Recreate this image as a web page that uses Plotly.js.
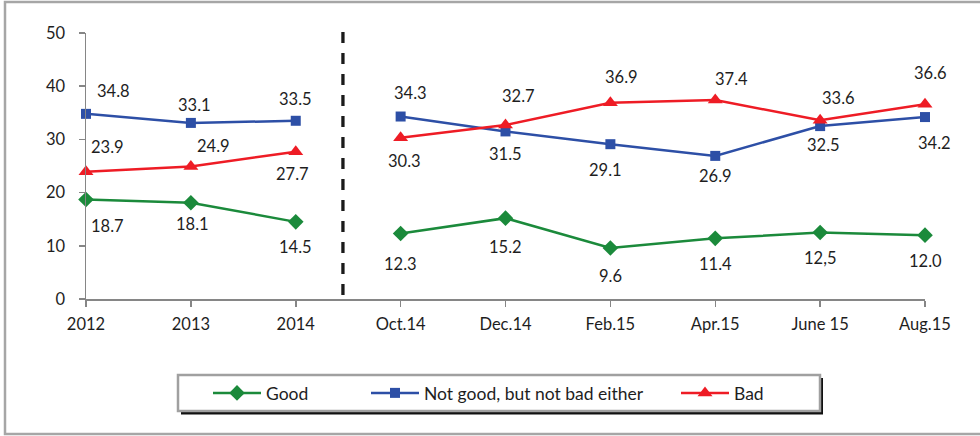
<!DOCTYPE html>
<html>
<head>
<meta charset="utf-8">
<script src="https://cdn.plot.ly/plotly-3.0.1.min.js"></script>
<style>html,body{margin:0;padding:0;background:#fff;}#chart{width:980px;height:436px;}</style>
</head>
<body>
<div id="chart"></div>
<script>
// ---- data ----
const categories = ['2012', '2013', '2014', 'Oct.14', 'Dec.14', 'Feb.15', 'Apr.15', 'June 15', 'Aug.15'];
const annualCount = 3; // first three points are yearly, the rest are monthly surveys
const seriesNames = ['Good', 'Not good, but not bad either', 'Bad'];
const good    = [18.7, 18.1, 14.5, 12.3, 15.2, 9.6, 11.4, 12.5, 12.0];
const notGood = [34.8, 33.1, 33.5, 34.3, 31.5, 29.1, 26.9, 32.5, 34.2];
const bad     = [23.9, 24.9, 27.7, 30.3, 32.7, 36.9, 37.4, 33.6, 36.6];
const goodLabels    = ['18.7', '18.1', '14.5', '12.3', '15.2', '9.6', '11.4', '12,5', '12.0'];
const notGoodLabels = ['34.8', '33.1', '33.5', '34.3', '31.5', '29.1', '26.9', '32.5', '34.2'];
const badLabels     = ['23.9', '24.9', '27.7', '30.3', '32.7', '36.9', '37.4', '33.6', '36.6'];

// ---- label placement (pixel offsets, dy positive = down) ----
const goodDx    = [21, 2, 0, 0, 0, 0, 0, 0, 0];
const goodDy    = [26, 21, 25, 30, 29, 28, 26, 25, 26];
const notGoodDx = [27, 4, 0, 10, 0, -5, 0, 3, 9];
const notGoodDy = [-23, -18, -22, -24, 23, 26, 20, 19, 26];
const badDx     = [21, 23, -3, 4, 13, 11, 16, 18, 5];
const badDy     = [-25, -21, 22, 23, -29, -26, -21, -22, -31];

// ---- styles ----
const FONT = 'Lato, "Open Sans", "DejaVu Sans", sans-serif';
const TXT = '#1e1e1e';
const AXIS = '#868686';
const styles = [
  {color: '#1b8a3b', symbol: 'diamond', size: 12, legend: 'legend'},
  {color: '#2d4fa6', symbol: 'square', size: 10, legend: 'legend2'},
  {color: '#ee1c25', symbol: 'triangle-up', size: 13, legend: 'legend3'}
];
const values = [good, notGood, bad];
const labels = [goodLabels, notGoodLabels, badLabels];
const dxs = [goodDx, notGoodDx, badDx];
const dys = [goodDy, notGoodDy, badDy];

const traces = [];
values.forEach((vals, s) => {
  const st = styles[s];
  const segs = [[0, annualCount], [annualCount, categories.length]];
  segs.forEach((seg, k) => {
    traces.push({
      type: 'scatter', mode: 'lines+markers',
      name: seriesNames[s],
      legendgroup: 'g' + s,
      legend: st.legend,
      showlegend: k === 0,
      x: categories.slice(seg[0], seg[1]),
      y: vals.slice(seg[0], seg[1]),
      line: {color: st.color, width: 2.5},
      marker: {color: st.color, symbol: st.symbol, size: st.size},
      cliponaxis: false,
      hoverinfo: 'skip'
    });
  });
});

const annotations = [];
values.forEach((vals, s) => {
  vals.forEach((v, i) => {
    annotations.push({
      x: i, y: v, xref: 'x', yref: 'y',   // category index on the category axis
      text: labels[s][i], showarrow: false,
      xanchor: 'center', yanchor: 'middle',
      xshift: dxs[s][i], yshift: -dys[s][i],
      font: {family: FONT, size: 16.5, color: TXT}
    });
  });
});

// pixel helpers for paper coordinates
const L = 86, R = 55, T = 33, B = 137, W = 980, H = 436;
const pw = W - L - R, ph = H - T - B;
const px = x => (x - L) / pw;
const py = y => (H - B - y) / ph;

const shapes = [
  // outer frame
  {type: 'rect', xref: 'paper', yref: 'paper', x0: px(5), x1: px(992), y0: py(434), y1: py(2),
   line: {color: '#a6a6a6', width: 2.5}, fillcolor: 'rgba(0,0,0,0)', layer: 'below'},
  // legend shadow
  {type: 'rect', xref: 'paper', yref: 'paper', x0: px(181), x1: px(823), y0: py(414.5), y1: py(378),
   line: {width: 0}, fillcolor: '#111', layer: 'below'},
  // legend box
  {type: 'rect', xref: 'paper', yref: 'paper', x0: px(178), x1: px(820), y0: py(411), y1: py(375),
   line: {color: '#a0a0a0', width: 2.5}, fillcolor: '#ffffff', layer: 'below'},
  // dashed separator between yearly and monthly data
  {type: 'line', xref: 'x', yref: 'paper', x0: 2.45, x1: 2.45, y0: py(32), y1: 0,
   line: {color: '#1a1a1a', width: 3.3, dash: '11px,10px'}}
];

const legendBase = {
  orientation: 'h', yanchor: 'middle', y: py(393), xanchor: 'left',
  bgcolor: 'rgba(0,0,0,0)', borderwidth: 0, itemwidth: 48,
  font: {family: FONT, size: 17.5, color: TXT}
};

const layout = {
  width: W, height: H,
  margin: {l: L, r: R, t: T, b: B, pad: 0},
  paper_bgcolor: '#ffffff', plot_bgcolor: '#ffffff',
  font: {family: FONT, size: 16, color: TXT},
  showlegend: true,
  legend:  Object.assign({}, legendBase, {x: px(208)}),
  legend2: Object.assign({}, legendBase, {x: px(366)}),
  legend3: Object.assign({}, legendBase, {x: px(676)}),
  xaxis: {
    type: 'category', categoryorder: 'array', categoryarray: categories,
    range: [0, categories.length - 1],
    showline: true, linecolor: AXIS, linewidth: 1.5,
    ticks: 'outside', ticklen: 6, tickcolor: AXIS, tickwidth: 1.5,
    showgrid: false, zeroline: false,
    ticklabelstandoff: 4,
    tickfont: {family: FONT, size: 16.5, color: TXT}
  },
  yaxis: {
    range: [0, 50], tickvals: [0, 10, 20, 30, 40, 50],
    showline: true, linecolor: AXIS, linewidth: 1.5,
    ticks: 'outside', ticklen: 6, tickcolor: AXIS, tickwidth: 1.5,
    showgrid: false, zeroline: false,
    ticklabelstandoff: 10,
    tickfont: {family: FONT, size: 16.5, color: TXT}
  },
  shapes: shapes,
  annotations: annotations
};

Plotly.newPlot('chart', traces, layout, {staticPlot: true, displayModeBar: false});
</script>
</body>
</html>
